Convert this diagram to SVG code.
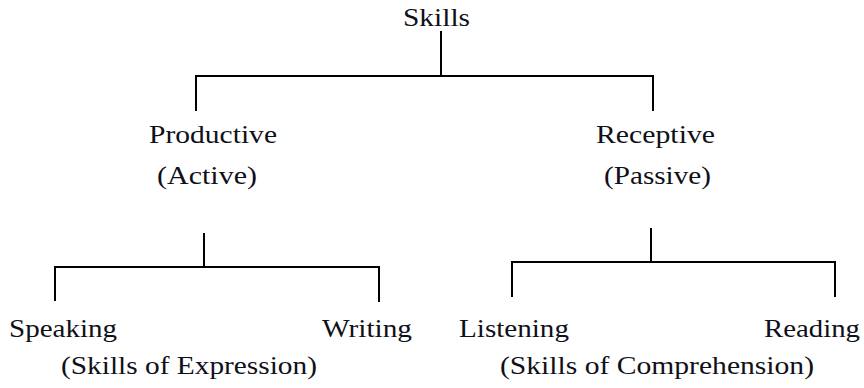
<svg xmlns="http://www.w3.org/2000/svg" width="864" height="388" viewBox="0 0 864 388">
<style>
.t{font-family:"Liberation Serif","Times New Roman",serif;font-size:26px;fill:#101018}
.c line{stroke:#000;stroke-width:2;stroke-linecap:square}
</style>
<rect width="864" height="388" fill="#fff"/>
<g class="c" id="connectors">
<line x1="441" y1="32" x2="441" y2="76"/>
<line x1="196" y1="76" x2="653" y2="76"/>
<line x1="196" y1="76" x2="196" y2="110"/>
<line x1="653" y1="76" x2="653" y2="110"/>
<line x1="204" y1="234" x2="204" y2="267"/>
<line x1="55" y1="267" x2="379" y2="267"/>
<line x1="55" y1="267" x2="55" y2="300"/>
<line x1="379" y1="267" x2="379" y2="301"/>
<line x1="651" y1="229" x2="651" y2="262"/>
<line x1="512" y1="262" x2="835" y2="262"/>
<line x1="512" y1="262" x2="512" y2="296"/>
<line x1="835" y1="262" x2="835" y2="296"/>
</g>
<g class="t" font-family="Liberation Serif, serif" font-size="26" fill="#101018">
<g id="skills"><text x="403" y="26" textLength="67" lengthAdjust="spacingAndGlyphs">Skills</text></g>
<g id="productive"><text x="149" y="143" textLength="128" lengthAdjust="spacingAndGlyphs">Productive</text>
<text x="157" y="184" textLength="100" lengthAdjust="spacingAndGlyphs">(Active)</text></g>
<g id="receptive"><text x="596" y="143" textLength="119" lengthAdjust="spacingAndGlyphs">Receptive</text>
<text x="604" y="184" textLength="107" lengthAdjust="spacingAndGlyphs">(Passive)</text></g>
<g id="speaking"><text x="9" y="337" textLength="108" lengthAdjust="spacingAndGlyphs">Speaking</text></g>
<g id="writing"><text x="322" y="337" textLength="90" lengthAdjust="spacingAndGlyphs">Writing</text></g>
<g id="expression"><text x="61" y="374" textLength="256" lengthAdjust="spacingAndGlyphs">(Skills of Expression)</text></g>
<g id="listening"><text x="459" y="337" textLength="110" lengthAdjust="spacingAndGlyphs">Listening</text></g>
<g id="reading"><text x="764" y="337" textLength="96" lengthAdjust="spacingAndGlyphs">Reading</text></g>
<g id="comprehension"><text x="500" y="374" textLength="314" lengthAdjust="spacingAndGlyphs">(Skills of Comprehension)</text></g>
</g>
</svg>
